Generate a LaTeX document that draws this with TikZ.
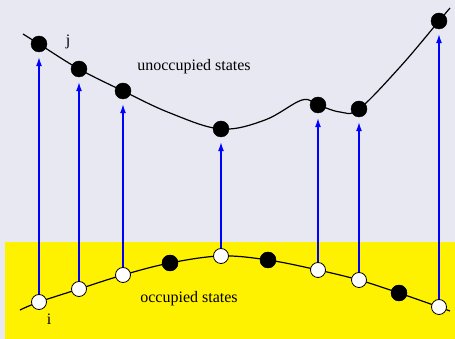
\documentclass[tikz,border=0pt]{standalone}
\usepackage{fontspec}
\setmainfont{Liberation Serif}
\usetikzlibrary{arrows.meta}
\definecolor{bgcol}{RGB}{232,232,242}
\tikzset{full node/.style={circle,draw,fill=black,minimum size=16pt,inner
sep=0pt}}
\tikzset{hole node/.style={circle,draw,fill=white,minimum size=15pt,line width=0.8pt,inner
sep=0pt}}
\tikzset{exc arrow/.style={blue,line width=1.2pt,-{Latex[length=9pt,width=6pt]},shorten >=5pt}}
\begin{document}
\begin{tikzpicture}[x=1pt,y=1pt,font=\fontsize{16}{19}\selectfont]

% background
\fill[bgcol] (0,0) rectangle (455,339);
\fill[yellow] (5,0) rectangle (455,97);
\useasboundingbox (0,0) rectangle (455,339);

% bands
\draw[line width=1.2pt] plot[smooth,tension=0.6] coordinates {(23,305) (39,295) (79,270) (123,248)
  (170,226) (221,210) (265,219) (302,239) (318,234) (340,227) (359,230) (400,272) (439,318) (450,331)};
\draw[line width=1.2pt] plot[smooth,tension=0.6] coordinates {(20,29) (39,37) (79,50) (123,64)
  (170,76) (221,83) (268,79) (318,69) (359,59) (399,46) (439,32) (450,28)};

% unoccupied states
\foreach \n/\x/\y in {1/39/295,2/79/270,3/123/248,4/221/210,5/318/234,6/359/230,7/439/318}{
    \node[full node] (u\n) at (\x,\y){ };
}

% occupied states
\foreach \n/\x/\y in {1/39/37,2/79/50,3/123/64,4/170/76,5/221/83,6/268/79,7/318/69,8/359/59,9/399/46,10/439/32}{
    \node[hole node] (l\n) at (\x,\y){ };
}
\foreach \n in {4,6,9}{
    \node[full node] at (l\n){ };
}

% excitations
\foreach \a/\b in {1/1,2/2,3/3,5/4,7/5,8/6,10/7}{
    \draw[exc arrow] (l\a) -- (u\b);
}

\node (j) at (68,297) {j};
\node (i) at (49,20) {i};
\node (unocc) at (194,272) {unoccupied states};
\node (occ) at (189,40) {occupied states};
\end{tikzpicture}
\end{document}
